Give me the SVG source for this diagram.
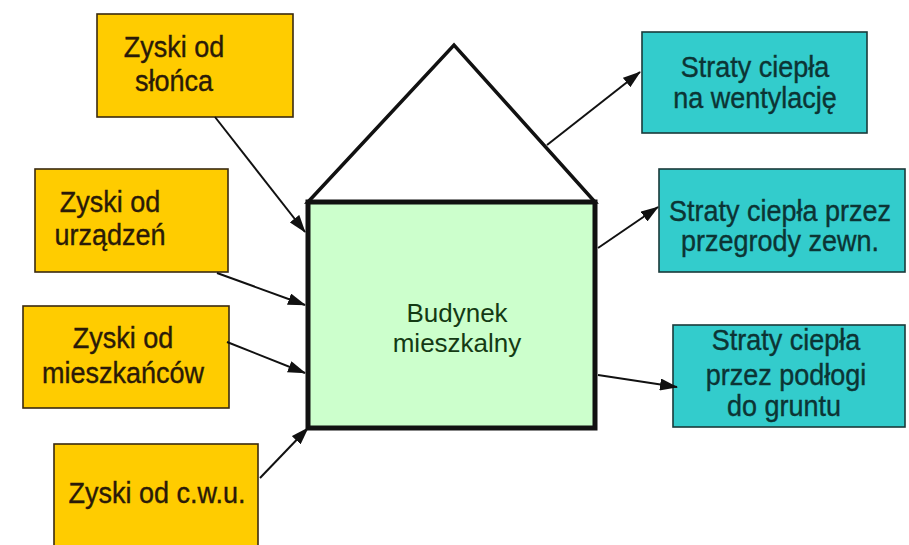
<svg xmlns="http://www.w3.org/2000/svg" width="909" height="545" viewBox="0 0 909 545">
<style>
.gain{fill:#FFCC00;stroke:#3a2a10;stroke-width:1.6}
.loss{fill:#33CCCC;stroke:#1a3a3a;stroke-width:1.6}
.t{font-family:"Liberation Sans",Arial,sans-serif;font-size:27px;text-anchor:middle;stroke-width:0.35}
.tg{fill:#2a1a08;stroke:#2a1a08}
.tl{fill:#0c3434;stroke:#0c3434}
.tb{fill:#143a14;font-size:26px;stroke:none}
.conn line{stroke:#111;stroke-width:2;marker-end:url(#ah)}
</style>
<defs>
<marker id="ah" viewBox="0 0 18 12" refX="17" refY="6" markerWidth="18" markerHeight="12" markerUnits="userSpaceOnUse" orient="auto">
<path d="M0,0 L18,6 L0,12 z" fill="#111"/>
</marker>
</defs>
<rect width="909" height="545" fill="#fff"/>
<g id="house">
<polygon points="308,202 454,45 595,202" fill="#fff" stroke="#111" stroke-width="3.5" stroke-linejoin="miter"/>
<rect x="308" y="202" width="287" height="226" fill="#CCFFCC" stroke="#111" stroke-width="5"/>
<text class="t tb" x="457" y="322">Budynek</text>
<text class="t tb" x="457" y="352">mieszkalny</text>
</g>
<g id="zyski-slonca">
<rect class="gain" x="97" y="14" width="196" height="103"/>
<text class="t tg" transform="translate(174,57) scale(1,1.1)">Zyski od</text>
<text class="t tg" transform="translate(174,91) scale(1,1.1)">słońca</text>
</g>
<g id="zyski-urzadzen">
<rect class="gain" x="35" y="169" width="193" height="103"/>
<text class="t tg" transform="translate(110,212) scale(1,1.1)">Zyski od</text>
<text class="t tg" transform="translate(110,245) scale(1,1.1)">urządzeń</text>
</g>
<g id="zyski-mieszkancow">
<rect class="gain" x="23" y="306" width="206" height="102"/>
<text class="t tg" transform="translate(123,348) scale(1,1.1)">Zyski od</text>
<text class="t tg" transform="translate(123,383) scale(1,1.1)">mieszkańców</text>
</g>
<g id="zyski-cwu">
<rect class="gain" x="54" y="444" width="204" height="110"/>
<text class="t tg" transform="translate(157,503) scale(1,1.1)">Zyski od c.w.u.</text>
</g>
<g id="straty-wentylacja">
<rect class="loss" x="642" y="32" width="225" height="101"/>
<text class="t tl" transform="translate(755,77) scale(1,1.08)">Straty ciepła</text>
<text class="t tl" transform="translate(755,108) scale(1,1.08)">na wentylację</text>
</g>
<g id="straty-przegrody">
<rect class="loss" x="659" y="169" width="246" height="103"/>
<text class="t tl" transform="translate(780,221) scale(1,1.08)">Straty ciepła przez</text>
<text class="t tl" transform="translate(780,251) scale(1,1.08)">przegrody zewn.</text>
</g>
<g id="straty-podlogi">
<rect class="loss" x="673" y="325" width="232" height="102"/>
<text class="t tl" transform="translate(786,350) scale(1,1.08)">Straty ciepła</text>
<text class="t tl" transform="translate(786,385) scale(1,1.08)">przez podłogi</text>
<text class="t tl" transform="translate(784,416) scale(1,1.08)">do gruntu</text>
</g>
<g id="connectors" class="conn">
<line x1="215" y1="117" x2="305" y2="232"/>
<line x1="217" y1="273" x2="305" y2="305"/>
<line x1="227" y1="342" x2="305" y2="373"/>
<line x1="260" y1="478" x2="308" y2="428"/>
<line x1="547" y1="145" x2="640" y2="72"/>
<line x1="598" y1="248" x2="658" y2="207"/>
<line x1="598" y1="375" x2="677" y2="387"/>
</g>
</svg>
